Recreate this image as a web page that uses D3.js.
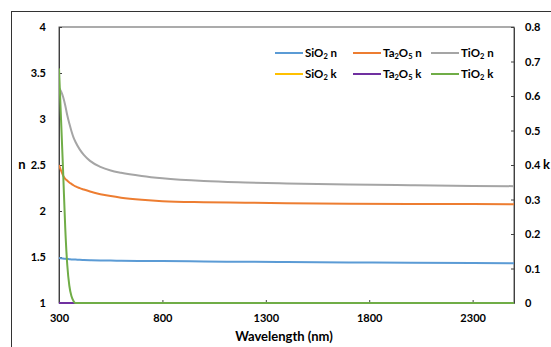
<!DOCTYPE html>
<html>
<head>
<meta charset="utf-8">
<script src="https://cdn.jsdelivr.net/npm/d3@7"></script>
<style>
  body { margin: 0; background: #fff; }
  svg { display: block; font-family: Lato, "Liberation Sans", sans-serif; font-weight: bold; }
</style>
</head>
<body>
<svg id="chart" width="551" height="347"></svg>
<script>
// ---- data ----
const wavelengths = [300,310,320,330,340,350,360,370,380,400,420,450,500,550,600,700,800,1000,1200,1400,1700,2000,2300,2500];
const sio2_n  = [1.49,1.486,1.483,1.48,1.478,1.476,1.474,1.473,1.472,1.47,1.468,1.466,1.463,1.461,1.459,1.457,1.456,1.452,1.448,1.445,1.441,1.437,1.434,1.432];
const ta2o5_n = [2.50,2.44,2.385,2.35,2.33,2.31,2.295,2.28,2.267,2.248,2.233,2.212,2.183,2.162,2.145,2.122,2.107,2.096,2.09,2.085,2.08,2.077,2.075,2.074];
const tio2_n  = [3.34,3.30,3.24,3.15,3.04,2.95,2.87,2.80,2.75,2.67,2.61,2.545,2.48,2.44,2.415,2.38,2.355,2.325,2.31,2.30,2.288,2.28,2.273,2.27];
const sio2_k  = [0,0,0,0,0,0,0,0,0,0,0,0,0,0,0,0,0,0,0,0,0,0,0,0];
const ta2o5_k = [0,0,0,0,0,0,0,0,0,0,0,0,0,0,0,0,0,0,0,0,0,0,0,0];
const tio2_k  = [0.68,0.53,0.38,0.22,0.11,0.05,0.02,0.006,0,0,0,0,0,0,0,0,0,0,0,0,0,0,0,0];
const xTicks = [300,800,1300,1800,2300];
const nTicks = [1,1.5,2,2.5,3,3.5,4];
const kTicks = [0,0.1,0.2,0.3,0.4,0.5,0.6,0.7,0.8];

const series = [
  {name:"SiO", sub:"2", suf:" n", vals:sio2_n,  axis:"n", color:"#5B9BD5"},
  {name:"Ta", sub:"2", mid:"O", sub2:"5", suf:" n", vals:ta2o5_n, axis:"n", color:"#ED7D31"},
  {name:"TiO", sub:"2", suf:" n", vals:tio2_n,  axis:"n", color:"#A5A5A5"},
  {name:"SiO", sub:"2", suf:" k", vals:sio2_k,  axis:"k", color:"#FFC000"},
  {name:"Ta", sub:"2", mid:"O", sub2:"5", suf:" k", vals:ta2o5_k, axis:"k", color:"#7030A0"},
  {name:"TiO", sub:"2", suf:" k", vals:tio2_k,  axis:"k", color:"#70AD47"}
];

// ---- layout ----
const svg = d3.select("#chart");
const L = 59, R = 514, T = 27, B = 303;

const x = d3.scaleLinear().domain([300,2500]).range([L,R]);
const yN = d3.scaleLinear().domain([1,4]).range([B,T]);
const yK = d3.scaleLinear().domain([0,0.8]).range([B,T]);

// outer chart border
svg.append("rect").attr("x",11.5).attr("y",11.5).attr("width",600).attr("height",400)
  .attr("fill","none").attr("stroke","#333").attr("stroke-width",1);

// plot area border
svg.append("rect").attr("x",L).attr("y",T).attr("width",R-L).attr("height",B-T)
  .attr("fill","none").attr("stroke","#595959").attr("stroke-width",1);

svg.append("defs").append("clipPath").attr("id","clip")
  .append("rect").attr("x",L).attr("y",T-2).attr("width",R-L).attr("height",B-T+3);

// axes
const fontSize = 11;
const gx = svg.append("g").attr("transform",`translate(0,${B})`)
  .call(d3.axisBottom(x).tickValues(xTicks).tickSizeInner(-3).tickSizeOuter(0).tickPadding(11).tickFormat(d3.format("d")));
const gl = svg.append("g").attr("transform",`translate(${L},0)`)
  .call(d3.axisLeft(yN).tickValues(nTicks).tickSizeInner(-3).tickSizeOuter(0).tickPadding(13).tickFormat(d => String(d)));
const gr = svg.append("g").attr("transform",`translate(${R},0)`)
  .call(d3.axisRight(yK).tickValues(kTicks).tickSizeInner(-3).tickSizeOuter(0).tickPadding(11).tickFormat(d => String(d)));
[gx,gl,gr].forEach(g => {
  g.select(".domain").attr("stroke","#404040");
  g.selectAll(".tick line").attr("stroke","#404040");
  g.selectAll("text").attr("font-family","Lato, sans-serif").attr("font-weight","bold")
    .attr("font-size",fontSize).attr("fill","#000");
});

// lines
const plot = svg.append("g").attr("clip-path","url(#clip)");
series.forEach(s => {
  const yS = s.axis === "n" ? yN : yK;
  const line = d3.line().x((d,i) => x(wavelengths[i])).y(d => yS(d)).curve(d3.curveMonotoneX);
  plot.append("path").datum(s.vals).attr("d",line)
    .attr("fill","none").attr("stroke",s.color).attr("stroke-width",2);
});

// axis titles
svg.append("text").attr("x",22).attr("y",169).attr("text-anchor","middle")
  .attr("font-size",13).text("n");
svg.append("text").attr("x",543).attr("y",169).attr("text-anchor","start")
  .attr("font-size",13).text("k");
svg.append("text").attr("x",284).attr("y",341).attr("text-anchor","middle")
  .attr("font-size",13).text("Wavelength (nm)");

// legend
const colX = [275, 353, 431];
const rowY = [53, 74];
series.forEach((s,i) => {
  const cx = colX[i % 3], cy = rowY[Math.floor(i / 3)];
  svg.append("line").attr("x1",cx).attr("x2",cx+28).attr("y1",cy).attr("y2",cy)
    .attr("stroke",s.color).attr("stroke-width",2);
  const t = svg.append("text").attr("x",cx+30).attr("y",cy+4).attr("font-size",11.5);
  t.append("tspan").text(s.name);
  t.append("tspan").attr("font-size",7.5).attr("dy",2).text(s.sub);
  if (s.mid) {
    t.append("tspan").attr("dy",-2).text(s.mid);
    t.append("tspan").attr("font-size",7.5).attr("dy",2).text(s.sub2);
  }
  t.append("tspan").attr("dy",-2).text(s.suf);
});
</script>
</body>
</html>
